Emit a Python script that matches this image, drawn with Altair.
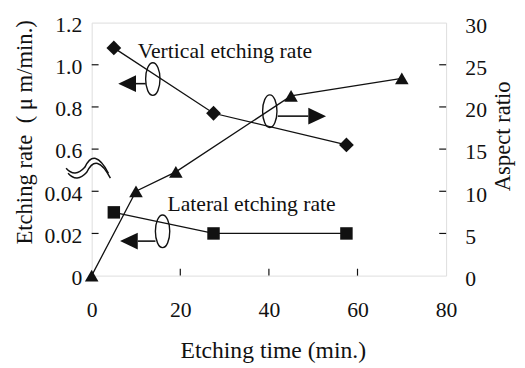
import altair as alt
import pandas as pd

# ---- data ----
time_rate = [5, 27.5, 57.5]            # min
vertical_rate = [1.08, 0.77, 0.62]     # um/min
lateral_rate = [0.03, 0.02, 0.02]      # um/min
time_aspect = [0, 10, 19, 45, 70]      # min
aspect_ratio = [0, 10, 12.3, 21.3, 23.4]

x_ticks = [0, 20, 40, 60, 80]
aspect_ticks = [0, 5, 10, 15, 20, 25, 30]
rate_tick_labels = ["0", "0.02", "0.04", "0.6", "0.8", "1.0", "1.2"]

# annotations (in data units: minutes, aspect-ratio units)
ann_labels = ["Vertical etching rate", "Lateral etching rate"]
ann_t = [10.4, 17.1]
ann_a = [25.78, 7.62]
ell_t = [13.8, 40.2, 16.0]
ell_a = [23.3, 19.5, 5.25]
arrow_t1 = [10.0, 42.0, 10.4]
arrow_t2 = [12.2, 48.9, 14.4]
arrow_head_t = [8.0, 50.9, 8.4]
arrow_a = [22.76, 18.91, 4.09]
arrow_dir = ["L", "R", "L"]
break_t = [-0.67]
break_a = [12.72]

FONT = "Liberation Serif"
INK = "#111111"

vert = pd.DataFrame({"t": time_rate, "rate": vertical_rate})
lat = pd.DataFrame({"t": time_rate, "rate": lateral_rate})
aspect = pd.DataFrame({"t": time_aspect, "a": aspect_ratio})
ann = pd.DataFrame({"t": ann_t, "a": ann_a, "label": ann_labels})
ell = pd.DataFrame({"t": ell_t, "a": ell_a})
arrows = pd.DataFrame({"t1": arrow_t1, "t2": arrow_t2, "th": arrow_head_t,
                       "a": arrow_a, "dir": arrow_dir})
brk = pd.DataFrame({"t": break_t, "a": break_a})
ytk_inner = pd.DataFrame({"v": aspect_ticks[1:-1]})
xtk_inner = pd.DataFrame({"v": x_ticks[1:-1]})

xscale = alt.Scale(domain=[0, 80], nice=False)
yscale = alt.Scale(domain=[0, 30], nice=False)

left_labels = [rate_tick_labels[0] + "\u00a0\u00a0"] + rate_tick_labels[1:]
expr = " : ".join(f"datum.value == {v} ? '{lab}'" for v, lab in zip(aspect_ticks, left_labels)) + " : ''"

common_axis = dict(ticks=False, domain=False, grid=False, labelFont=FONT, labelFontSize=22,
                   labelColor=INK, titleFont=FONT, titleFontWeight="normal",
                   titleColor=INK, labelFlush=False, labelOverlap=False)

x_axis = alt.Axis(orient="bottom", values=x_ticks, labelPadding=25, title="Etching time (min.)",
                  titleFontSize=24, titleX=184, titleY=83, titleBaseline="alphabetic",
                  titleAlign="center", **common_axis)
left_axis = alt.Axis(orient="left", values=aspect_ticks, labelExpr=expr, labelPadding=10,
                     labelOffset=2, titleFontSize=23,
                     title="Etching rate\u00a0\u00a0(\u00a0\u03bc m/min.)", titleAngle=270,
                     titleX=-61, titleY=111, titleBaseline="alphabetic", titleAlign="center",
                     **common_axis)
right_axis = alt.Axis(orient="right", values=aspect_ticks, labelPadding=19, labelOffset=3,
                      title="Aspect ratio", titleFontSize=23, titleAngle=270, titleX=64, titleY=115,
                      titleBaseline="alphabetic", titleAlign="center", **common_axis)

X = lambda f="t", ax=None: alt.X(f"{f}:Q", scale=xscale, axis=ax)
Y = lambda f="a", ax=None: alt.Y(f"{f}:Q", scale=yscale, axis=ax)

rate_calc = "datum.rate <= 0.05 ? datum.rate * 250 : 15 + (datum.rate - 0.6) * 25"

vert_line = alt.Chart(vert).transform_calculate(a=rate_calc).mark_line(
    color=INK, strokeWidth=1.3).encode(x=X("t", x_axis), y=Y("a", left_axis))
lat_line = alt.Chart(lat).transform_calculate(a=rate_calc).mark_line(
    color=INK, strokeWidth=1.3).encode(x=X(), y=Y())
vert_pts = alt.Chart(vert).transform_calculate(a=rate_calc).mark_point(
    filled=True, color=INK, opacity=1, shape="diamond", size=225).encode(x=X(), y=Y())
lat_pts = alt.Chart(lat).transform_calculate(a=rate_calc).mark_point(
    filled=True, color=INK, opacity=1, shape="square", size=160).encode(x=X(), y=Y())
asp_line = alt.Chart(aspect).mark_line(color=INK, strokeWidth=1.3).encode(x=X(), y=Y("a", right_axis))
asp_pts = alt.Chart(aspect).mark_point(filled=True, color=INK, opacity=1, shape="triangle-up", size=190).encode(
    x=X(), y=Y())

texts = alt.Chart(ann).mark_text(align="left", baseline="alphabetic", font=FONT, fontSize=22,
                                 color=INK).encode(x=X(), y=Y(), text="label:N")
ELLIPSE = "M0,-1 A0.44,1 0 1 1 0,1 A0.44,1 0 1 1 0,-1 Z"
ellipses = alt.Chart(ell).mark_point(shape=ELLIPSE, filled=False, color=INK, strokeWidth=1.4,
                                     opacity=1, size=1100).encode(x=X(), y=Y())
stems = alt.Chart(arrows).mark_rule(color=INK, strokeWidth=1.6).encode(
    x=X("t1"), x2="t2:Q", y=Y())
LEFT_HEAD = "M-1,0 L1,-0.95 L1,0.95 Z"
RIGHT_HEAD = "M1,0 L-1,-0.95 L-1,0.95 Z"
heads_l = alt.Chart(arrows).transform_filter("datum.dir == 'L'").mark_point(
    filled=True, color=INK, opacity=1, size=324, shape=LEFT_HEAD).encode(x=X("th"), y=Y())
heads_r = alt.Chart(arrows).transform_filter("datum.dir == 'R'").mark_point(
    filled=True, color=INK, opacity=1, size=324, shape=RIGHT_HEAD).encode(x=X("th"), y=Y())

UP = "M-0.92,0 Q-0.56,0.4 -0.16,-0.04 Q0.24,-0.88 0.8,0.2"
LOW = "M-0.84,0.2 Q-0.48,0.6 -0.08,0.16 Q0.32,-0.68 0.88,0.4"
MID = "M-0.88,0.1 Q-0.52,0.5 -0.12,0.06 Q0.28,-0.78 0.84,0.3"
brk_white = alt.Chart(brk).mark_point(shape=MID, filled=False, color="white", strokeWidth=5,
                                      opacity=1, size=2500).encode(x=X(), y=Y())
brk_up = alt.Chart(brk).mark_point(shape=UP, filled=False, color=INK, strokeWidth=1.5,
                                   opacity=1, size=2500).encode(x=X(), y=Y())
brk_low = alt.Chart(brk).mark_point(shape=LOW, filled=False, color=INK, strokeWidth=1.5,
                                    opacity=1, size=2500).encode(x=X(), y=Y())

ltick = alt.Chart(ytk_inner).mark_rule(color=INK, strokeWidth=1.2).encode(
    y=Y("v"), x=alt.value(0), x2=alt.value(7))
rtick = alt.Chart(ytk_inner).mark_rule(color=INK, strokeWidth=1.2).encode(
    y=Y("v"), x=alt.value(353), x2=alt.value(360))
btick = alt.Chart(xtk_inner).mark_rule(color=INK, strokeWidth=1.2).encode(
    x=X("v"), y=alt.value(250), y2=alt.value(257))

chart = alt.layer(
    vert_line, lat_line, asp_line, ltick, rtick, btick, vert_pts, lat_pts, asp_pts, texts,
    ellipses, stems, heads_l, heads_r, brk_white, brk_up, brk_low,
).resolve_axis(x="independent", y="independent").properties(
    width=360, height=257,
    autosize=alt.AutoSizeParams(type="none"),
    padding={"left": 85, "top": 12, "right": 72, "bottom": 90},
).configure_view(stroke="#333333", strokeWidth=1.5).configure(background="white")

chart.save("out.html", embed_options={"renderer": "svg", "actions": False})
